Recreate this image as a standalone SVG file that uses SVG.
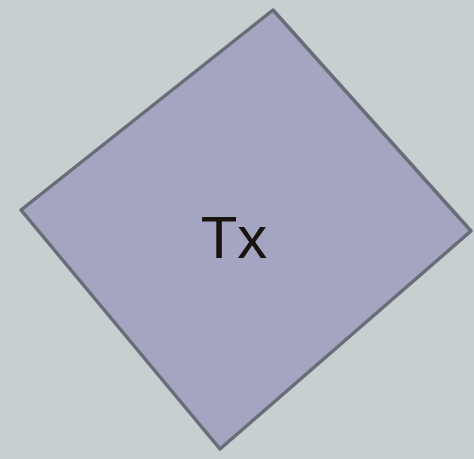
<svg xmlns="http://www.w3.org/2000/svg" width="474" height="459" viewBox="0 0 474 459">
<style>
.shape{fill:#a3a5c1;stroke:#6a6c78;stroke-width:3.5;stroke-linejoin:round}
.lbl{font-family:"Liberation Sans",Arial,sans-serif;font-size:60px;fill:#1a1410}
</style>
<rect width="474" height="459" fill="#c6d0d0"/>
<g id="node1">
<polygon class="shape" points="273,10 471,231 220,449 21,210"/>
<text class="lbl" x="234" y="258" text-anchor="middle">Tx</text>
</g>
<g id="connectors"/>
</svg>
